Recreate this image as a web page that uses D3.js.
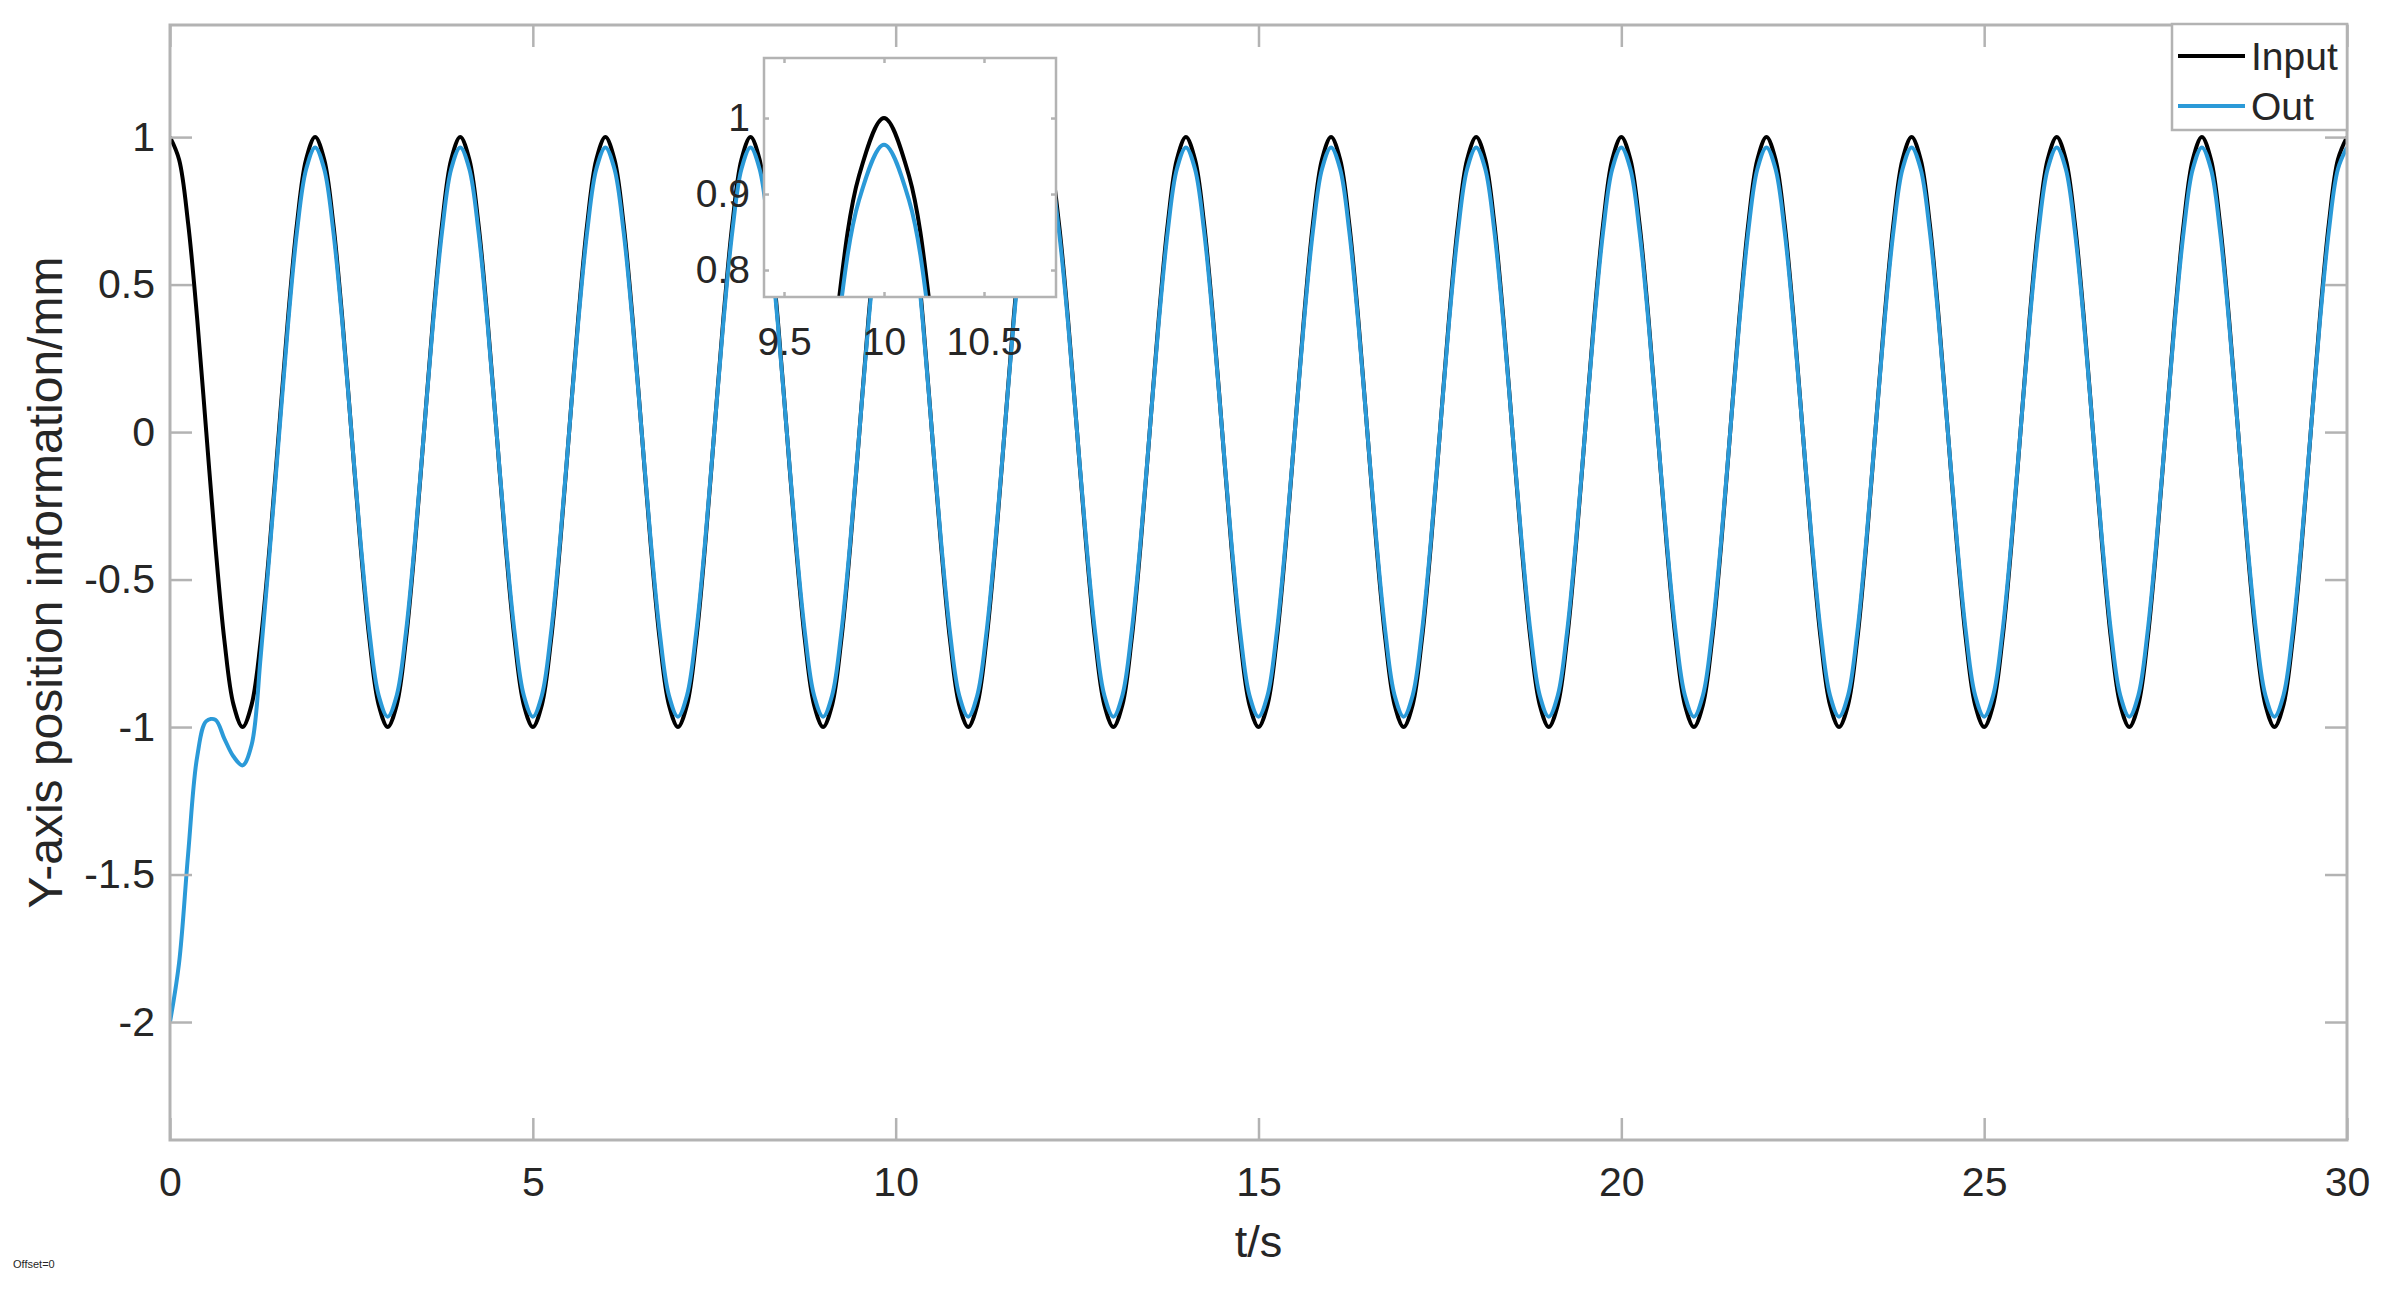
<!DOCTYPE html>
<html>
<head>
<meta charset="utf-8">
<script src="https://cdn.jsdelivr.net/npm/d3@7"></script>
<style>
  html, body { margin: 0; padding: 0; background: #ffffff; }
  svg { display: block; }
  text { font-family: "Liberation Sans", Arial, Helvetica, sans-serif; fill: #262626; }
</style>
</head>
<body>
<svg id="chart" width="2390" height="1299"></svg>
<script>
const sampleStep = 0.125;
const inputValues = [
  1, 0.924, 0.707, 0.383, 0, -0.383, -0.707, -0.924, -1, -0.924, -0.707, -0.383, 0, 0.383, 0.707, 0.924,
  1, 0.924, 0.707, 0.383, 0, -0.383, -0.707, -0.924, -1, -0.924, -0.707, -0.383, 0, 0.383, 0.707, 0.924,
  1, 0.924, 0.707, 0.383, 0, -0.383, -0.707, -0.924, -1, -0.924, -0.707, -0.383, 0, 0.383, 0.707, 0.924,
  1, 0.924, 0.707, 0.383, 0, -0.383, -0.707, -0.924, -1, -0.924, -0.707, -0.383, 0, 0.383, 0.707, 0.924,
  1, 0.924, 0.707, 0.383, 0, -0.383, -0.707, -0.924, -1, -0.924, -0.707, -0.383, 0, 0.383, 0.707, 0.924,
  1, 0.924, 0.707, 0.383, 0, -0.383, -0.707, -0.924, -1, -0.924, -0.707, -0.383, 0, 0.383, 0.707, 0.924,
  1, 0.924, 0.707, 0.383, 0, -0.383, -0.707, -0.924, -1, -0.924, -0.707, -0.383, 0, 0.383, 0.707, 0.924,
  1, 0.924, 0.707, 0.383, 0, -0.383, -0.707, -0.924, -1, -0.924, -0.707, -0.383, 0, 0.383, 0.707, 0.924,
  1, 0.924, 0.707, 0.383, 0, -0.383, -0.707, -0.924, -1, -0.924, -0.707, -0.383, 0, 0.383, 0.707, 0.924,
  1, 0.924, 0.707, 0.383, 0, -0.383, -0.707, -0.924, -1, -0.924, -0.707, -0.383, 0, 0.383, 0.707, 0.924,
  1, 0.924, 0.707, 0.383, 0, -0.383, -0.707, -0.924, -1, -0.924, -0.707, -0.383, 0, 0.383, 0.707, 0.924,
  1, 0.924, 0.707, 0.383, 0, -0.383, -0.707, -0.924, -1, -0.924, -0.707, -0.383, 0, 0.383, 0.707, 0.924,
  1, 0.924, 0.707, 0.383, 0, -0.383, -0.707, -0.924, -1, -0.924, -0.707, -0.383, 0, 0.383, 0.707, 0.924,
  1, 0.924, 0.707, 0.383, 0, -0.383, -0.707, -0.924, -1, -0.924, -0.707, -0.383, 0, 0.383, 0.707, 0.924,
  1, 0.924, 0.707, 0.383, 0, -0.383, -0.707, -0.924, -1, -0.924, -0.707, -0.383, 0, 0.383, 0.707, 0.924,
  1
];
const outValues = [
  -2.00, -1.80, -1.43, -1.10, -0.98, -0.975, -1.04, -1.10, -1.13, -1.06, -0.76, -0.40, -0.02, 0.36, 0.68, 0.89,
  0.965, 0.892, 0.682, 0.37, 0, -0.37, -0.682, -0.892, -0.965, -0.892, -0.682, -0.37, 0, 0.37, 0.682, 0.892,
  0.965, 0.892, 0.682, 0.37, 0, -0.37, -0.682, -0.892, -0.965, -0.892, -0.682, -0.37, 0, 0.37, 0.682, 0.892,
  0.965, 0.892, 0.682, 0.37, 0, -0.37, -0.682, -0.892, -0.965, -0.892, -0.682, -0.37, 0, 0.37, 0.682, 0.892,
  0.965, 0.892, 0.682, 0.37, 0, -0.37, -0.682, -0.892, -0.965, -0.892, -0.682, -0.37, 0, 0.37, 0.682, 0.892,
  0.965, 0.892, 0.682, 0.37, 0, -0.37, -0.682, -0.892, -0.965, -0.892, -0.682, -0.37, 0, 0.37, 0.682, 0.892,
  0.965, 0.892, 0.682, 0.37, 0, -0.37, -0.682, -0.892, -0.965, -0.892, -0.682, -0.37, 0, 0.37, 0.682, 0.892,
  0.965, 0.892, 0.682, 0.37, 0, -0.37, -0.682, -0.892, -0.965, -0.892, -0.682, -0.37, 0, 0.37, 0.682, 0.892,
  0.965, 0.892, 0.682, 0.37, 0, -0.37, -0.682, -0.892, -0.965, -0.892, -0.682, -0.37, 0, 0.37, 0.682, 0.892,
  0.965, 0.892, 0.682, 0.37, 0, -0.37, -0.682, -0.892, -0.965, -0.892, -0.682, -0.37, 0, 0.37, 0.682, 0.892,
  0.965, 0.892, 0.682, 0.37, 0, -0.37, -0.682, -0.892, -0.965, -0.892, -0.682, -0.37, 0, 0.37, 0.682, 0.892,
  0.965, 0.892, 0.682, 0.37, 0, -0.37, -0.682, -0.892, -0.965, -0.892, -0.682, -0.37, 0, 0.37, 0.682, 0.892,
  0.965, 0.892, 0.682, 0.37, 0, -0.37, -0.682, -0.892, -0.965, -0.892, -0.682, -0.37, 0, 0.37, 0.682, 0.892,
  0.965, 0.892, 0.682, 0.37, 0, -0.37, -0.682, -0.892, -0.965, -0.892, -0.682, -0.37, 0, 0.37, 0.682, 0.892,
  0.965, 0.892, 0.682, 0.37, 0, -0.37, -0.682, -0.892, -0.965, -0.892, -0.682, -0.37, 0, 0.37, 0.682, 0.892,
  0.965
];
const seriesNames = ["Input", "Out"];
const xTicks = [0, 5, 10, 15, 20, 25, 30];
const yTicks = [-2, -1.5, -1, -0.5, 0, 0.5, 1];
const insetXTicks = [9.5, 10, 10.5];
const insetYTicks = [0.8, 0.9, 1];
const xLabel = "t/s";
const yLabel = "Y-axis position information/mm";
const cornerNote = "Offset=0";

// ---- layout ----
const svg = d3.select("#chart");
const P = { left: 170, right: 2347, top: 25, bottom: 1140 };
const x = d3.scaleLinear().domain([0, 30]).range([P.left, P.right]);
const y = d3.scaleLinear().domain([-2.4, 1.38]).range([P.bottom, P.top]);

const I = { left: 764, right: 1056, top: 58, bottom: 297 };
const xi = d3.scaleLinear().domain([9.4, 10.86]).range([I.left, I.right]);
const yi = d3.scaleLinear().domain([0.7645, 1.079]).range([I.bottom, I.top]);

const colors = { Input: "#000000", Out: "#2b9ad8" };
const axisGray = "#b3b3b3";
const textCol = "#262626";
const fmt = d => String(d);

const inputData = inputValues.map((v, i) => [i * sampleStep, v]);
const outData = outValues.map((v, i) => [i * sampleStep, v]);
const series = [
  { name: "Input", data: inputData },
  { name: "Out", data: outData }
];

const defs = svg.append("defs");
defs.append("clipPath").attr("id", "mainClip").append("rect")
  .attr("x", P.left).attr("y", P.top).attr("width", P.right - P.left).attr("height", P.bottom - P.top);
defs.append("clipPath").attr("id", "insetClip").append("rect")
  .attr("x", I.left).attr("y", I.top).attr("width", I.right - I.left).attr("height", I.bottom - I.top);

svg.append("rect").attr("x", P.left).attr("y", P.top)
  .attr("width", P.right - P.left).attr("height", P.bottom - P.top).attr("fill", "#fff");

const line = d3.line().x(d => x(d[0])).y(d => y(d[1])).curve(d3.curveCatmullRom.alpha(0.5));
svg.append("g").attr("clip-path", "url(#mainClip)")
  .selectAll("path").data(series).join("path")
  .attr("d", d => line(d.data))
  .attr("fill", "none")
  .attr("stroke", d => colors[d.name])
  .attr("stroke-width", 4)
  .attr("stroke-linejoin", "round");

function styleAxis(g, fontSize) {
  g.select(".domain").remove();
  g.selectAll(".tick line").attr("stroke", axisGray).attr("stroke-width", 2.5);
  g.selectAll(".tick text").attr("fill", textCol).attr("font-size", fontSize)
    .attr("font-family", '"Liberation Sans", Arial, Helvetica, sans-serif');
}
const tickLen = 22;
svg.append("g").attr("transform", `translate(0,${P.bottom})`)
  .call(d3.axisBottom(x).tickValues(xTicks).tickSize(-tickLen).tickPadding(27).tickFormat(fmt))
  .call(g => styleAxis(g, 41));
svg.append("g").attr("transform", `translate(0,${P.top})`)
  .call(d3.axisTop(x).tickValues(xTicks).tickSize(-tickLen).tickFormat(""))
  .call(g => styleAxis(g, 41));
svg.append("g").attr("transform", `translate(${P.left},0)`)
  .call(d3.axisLeft(y).tickValues(yTicks).tickSize(-tickLen).tickPadding(15).tickFormat(fmt))
  .call(g => styleAxis(g, 41));
svg.append("g").attr("transform", `translate(${P.right},0)`)
  .call(d3.axisRight(y).tickValues(yTicks).tickSize(-tickLen).tickFormat(""))
  .call(g => styleAxis(g, 41));

svg.append("rect").attr("x", P.left).attr("y", P.top)
  .attr("width", P.right - P.left).attr("height", P.bottom - P.top)
  .attr("fill", "none").attr("stroke", axisGray).attr("stroke-width", 3);

svg.append("text").attr("x", (P.left + P.right) / 2).attr("y", 1257)
  .attr("text-anchor", "middle").attr("font-size", 45).text(xLabel);
svg.append("text")
  .attr("transform", `translate(62,${(P.top + P.bottom) / 2}) rotate(-90)`)
  .attr("text-anchor", "middle").attr("font-size", 48).text(yLabel);

// ---- inset ----
svg.append("rect").attr("x", I.left).attr("y", I.top)
  .attr("width", I.right - I.left).attr("height", I.bottom - I.top).attr("fill", "#fff");
const lineI = d3.line().x(d => xi(d[0])).y(d => yi(d[1])).curve(d3.curveCatmullRom.alpha(0.5));
svg.append("g").attr("clip-path", "url(#insetClip)")
  .selectAll("path").data(series).join("path")
  .attr("d", d => lineI(d.data.filter(p => p[0] >= 8.5 && p[0] <= 12)))
  .attr("fill", "none")
  .attr("stroke", d => colors[d.name])
  .attr("stroke-width", 4)
  .attr("stroke-linejoin", "round");
const insetTick = 5;
svg.append("g").attr("transform", `translate(0,${I.bottom})`)
  .call(d3.axisBottom(xi).tickValues(insetXTicks).tickSize(-insetTick).tickPadding(30).tickFormat(fmt))
  .call(g => styleAxis(g, 39));
svg.append("g").attr("transform", `translate(0,${I.top})`)
  .call(d3.axisTop(xi).tickValues(insetXTicks).tickSize(-insetTick).tickFormat(""))
  .call(g => styleAxis(g, 39));
svg.append("g").attr("transform", `translate(${I.left},0)`)
  .call(d3.axisLeft(yi).tickValues(insetYTicks).tickSize(-insetTick).tickPadding(14).tickFormat(fmt))
  .call(g => styleAxis(g, 39));
svg.append("g").attr("transform", `translate(${I.right},0)`)
  .call(d3.axisRight(yi).tickValues(insetYTicks).tickSize(-insetTick).tickFormat(""))
  .call(g => styleAxis(g, 39));
svg.append("rect").attr("x", I.left).attr("y", I.top)
  .attr("width", I.right - I.left).attr("height", I.bottom - I.top)
  .attr("fill", "none").attr("stroke", axisGray).attr("stroke-width", 2.5);

// ---- legend ----
const L = { left: 2172, top: 24, width: 175, height: 106 };
const lg = svg.append("g");
lg.append("rect").attr("x", L.left).attr("y", L.top).attr("width", L.width).attr("height", L.height)
  .attr("fill", "#fff").attr("stroke", axisGray).attr("stroke-width", 2.5);
const legendRows = [56, 106];
seriesNames.forEach((name, i) => {
  lg.append("line").attr("x1", 2178).attr("x2", 2245)
    .attr("y1", legendRows[i]).attr("y2", legendRows[i])
    .attr("stroke", colors[name]).attr("stroke-width", 4);
  lg.append("text").attr("x", 2251).attr("y", legendRows[i] + 14)
    .attr("font-size", 39).text(name);
});

svg.append("text").attr("x", 13).attr("y", 1268).attr("font-size", 11).attr("fill", "#777").text(cornerNote);
</script>
</body>
</html>
